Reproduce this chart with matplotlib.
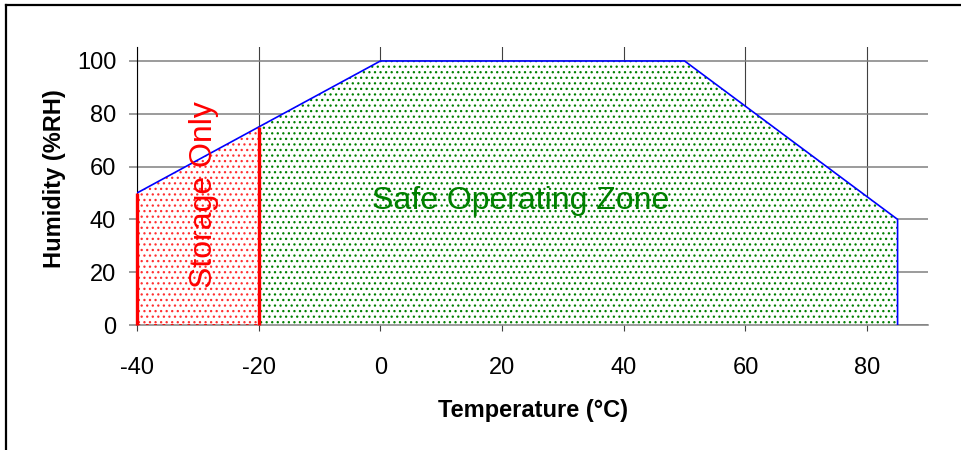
import matplotlib.pyplot as plt
from matplotlib.lines import Line2D

plt.rcParams['font.family'] = ['Liberation Sans', 'DejaVu Sans']
plt.rcParams['hatch.linewidth'] = 0.9

# ---------- DATA ----------
# envelope of the operating / storage limits (temperature °C, humidity %RH)
env_temp = [-40, -20, 0, 50, 85, 85]
env_hum = [50, 75, 100, 100, 40, 0]

storage_temp = [-40, -20]
storage_hum = [50, 75]

safe_temp = [-20, 0, 50, 85]
safe_hum = [75, 100, 100, 40]

x_ticks = [-40, -20, 0, 20, 40, 60, 80]
y_ticks = [0, 20, 40, 60, 80, 100]
# --------------------------


def main():
    fig = plt.figure(figsize=(9.61, 4.5), dpi=100)
    ax = fig.add_axes([137 / 961, 1 - 325 / 450, 791 / 961, 278 / 450])

    # hatched zones
    ax.fill_between(safe_temp, 0, safe_hum, facecolor='white', edgecolor='#008000',
                    hatch='...', linewidth=0, zorder=2)
    ax.fill_between(storage_temp, 0, storage_hum, facecolor='white', edgecolor='#ff3030',
                    hatch='...', linewidth=0, zorder=2)

    # outline
    ax.plot(env_temp, env_hum, color='#0000ff', lw=1.2, zorder=4)
    ax.vlines(storage_temp, 0, storage_hum, color='#ff0000', lw=2.4, zorder=6, clip_on=False)
    ax.plot(storage_temp, [0, 0], color='#ff0000', lw=2, linestyle=(0, (1, 2)), zorder=5)

    ax.text(-29, 49.5, 'Storage Only', color='#ff0000', fontsize=23, rotation=90,
            ha='center', va='center', zorder=6)
    ax.text(23, 46.8, 'Safe Operating Zone', color='#008000', fontsize=23,
            ha='center', va='center', zorder=6)

    ax.set_xlim(-40, 90)
    ax.set_ylim(0, 105.3)
    ax.set_xticks(x_ticks)
    ax.set_yticks(y_ticks)
    ax.set_xticklabels([str(t) for t in x_ticks])
    ax.set_yticklabels([str(t) for t in y_ticks])

    ax.xaxis.grid(True, color='#404040', lw=0.8, zorder=0)
    ax.yaxis.grid(True, color='#808080', lw=1.1, zorder=0)
    ax.set_axisbelow(True)

    ax.tick_params(axis='x', length=4, width=0.8, color='#404040', pad=19, labelsize=17)
    ax.tick_params(axis='y', length=6, width=1.1, color='#808080', pad=9, labelsize=17)

    for s in ['top', 'right']:
        ax.spines[s].set_visible(False)
    ax.spines['left'].set_color('black')
    ax.spines['left'].set_linewidth(0.8)
    ax.spines['bottom'].set_color('#808080')
    ax.spines['bottom'].set_linewidth(1.1)
    ax.spines['bottom'].set_zorder(3)

    ax.set_xlabel('Temperature (°C)', fontsize=17, fontweight='bold')
    ax.xaxis.set_label_coords(0.5, (325 - 411) / 278)
    ax.xaxis.label.set_va('center')
    ax.set_ylabel('Humidity (%RH)', fontsize=17, fontweight='bold')
    ax.yaxis.set_label_coords((54 - 137) / 791, (325 - 179) / 278)
    ax.yaxis.label.set_va('center')

    # frame pieces at top and left of the image
    fig.add_artist(Line2D([6 / 961, 1], [1 - 5 / 450] * 2, color='black', lw=1.6))
    fig.add_artist(Line2D([6 / 961] * 2, [0, 1 - 5 / 450], color='black', lw=1.6))

    fig.savefig('out.png', dpi=100)


if __name__ == "__main__":
    main()
